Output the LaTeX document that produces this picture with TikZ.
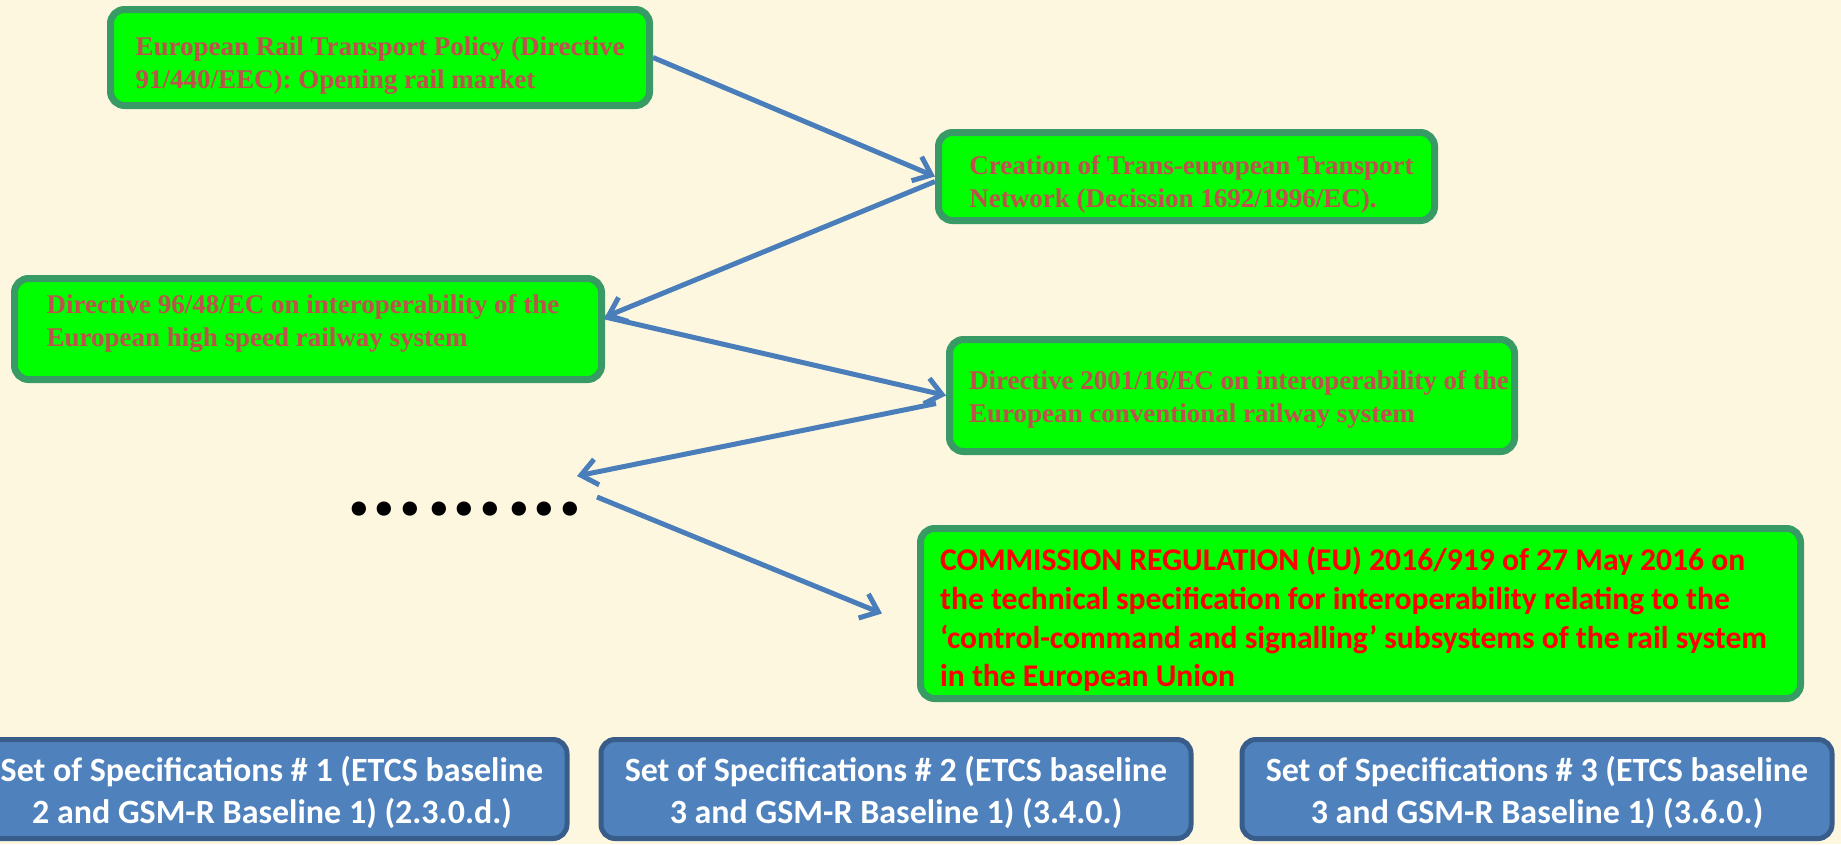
\documentclass[tikz,border=0pt]{standalone}
\usepackage{fontspec}
\setmainfont{Liberation Serif}
\newfontfamily\calib{Carlito}
\usetikzlibrary{arrows.meta}

\definecolor{bgcream}{HTML}{FEF7DF}
\definecolor{boxgreen}{HTML}{00FF00}
\definecolor{edgegreen}{HTML}{389A65}
\definecolor{textbrown}{HTML}{C0504D}
\definecolor{specfill}{HTML}{4F81BD}
\definecolor{specedge}{HTML}{385D8A}
\definecolor{linkblue}{HTML}{4A7EBB}

% multi-line block, moved by (dx, dy) without changing its reported size
% #1 = vertical raise, #2 = horizontal move, #3 = lines
\newcommand\blockL[3]{\kern#2\raisebox{#1}[\height][\depth]{\begin{tabular}{@{}l@{}}#3\end{tabular}}\kern-#2}
\newcommand\blockC[2]{\raisebox{#1}[\height][\depth]{\begin{tabular}{@{}c@{}}#2\end{tabular}}}
\newcommand\dotrun{\makebox[25.5pt]{.}\makebox[25.5pt]{.}\makebox[25.5pt]{.}}

\tikzset{
  greenbox/.style={draw=edgegreen, line width=7pt, fill=boxgreen,
    rounded corners=14pt, text=textbrown, inner sep=0pt,
    font=\bfseries\fontsize{27}{33}\selectfont},
  regbox/.style={greenbox, text=red,
    font=\calib\bfseries\fontsize{31.6}{38.6}\selectfont},
  specbox/.style={draw=specedge, line width=5pt, fill=specfill,
    rounded corners=14pt, text=white, inner sep=0pt,
    minimum width=590pt, minimum height=99pt,
    font=\calib\bfseries\fontsize{34}{42}\selectfont},
  link/.style={draw=linkblue, line width=5pt,
    -{Straight Barb[length=16pt,width=26pt]}},
}

\begin{document}
\begin{tikzpicture}[x=1pt,y=-1pt]
\useasboundingbox (0,0) rectangle (1841,844);
\clip (0,0) rectangle (1841,844);
\fill[bgcream] (0,0) rectangle (1841,844);

% legislative steps
\node[greenbox, minimum width=539pt, minimum height=96pt] (policy) at (380,57.5)
  {\blockL{-7.4pt}{0pt}{European Rail Transport Policy (Directive\\91/440/EEC): Opening rail market}};
\node[greenbox, minimum width=496pt, minimum height=88pt] (tent) at (1186.5,176.5)
  {\blockL{-7.7pt}{5pt}{Creation of Trans-european Transport\\Network (Decission 1692/1996/EC).}};
\node[greenbox, minimum width=587pt, minimum height=101pt] (hs) at (308,329)
  {\blockL{5.6pt}{-5pt}{Directive 96/48/EC on interoperability of the\\European high speed railway system}};
\node[greenbox, minimum width=565pt, minimum height=112pt] (conv) at (1232,395.5)
  {\blockL{-3.5pt}{7pt}{Directive 2001/16/EC on interoperability of the\\European conventional railway system}};
\node[regbox, minimum width=880pt, minimum height=170pt] (reg) at (1360.5,613.5)
  {\blockL{-7.5pt}{-7pt}{COMMISSION REGULATION (EU) 2016/919 of 27 May 2016 on\\
   the technical specification for interoperability relating to the\\
   ‘control-command and signalling’ subsystems of the rail system\\
   in the European Union}};

% ellipsis between the steps
\node[inner sep=0pt, font=\calib\bfseries\fontsize{96}{96}\selectfont] (dots) at (464.5,509)
  {\dotrun\hspace{3.5pt}\dotrun\hspace{3.5pt}\dotrun};
\coordinate (gapin) at (577,476);
\coordinate (gapout) at (597,497);

% connectors
\draw[link] (policy.east) -- (tent.west);
\draw[link] ([yshift=-5pt]tent.west) -- ([yshift=12pt]hs.east);
\draw[link] ([yshift=12pt]hs.east) -- (conv.west);
\draw[link] ([xshift=-10pt,yshift=-8pt]conv.west) -- (gapin);
\draw[link] (gapout) -- ([xshift=-35pt]reg.west);

% sets of specifications
\node[specbox] (set1) at (272,789)
  {\blockC{-5pt}{Set of Specifications \# 1 (ETCS baseline\\2 and GSM-R Baseline 1) (2.3.0.d.)}};
\node[specbox] (set2) at (896,789)
  {\blockC{-5pt}{Set of Specifications \# 2 (ETCS baseline\\3 and GSM-R Baseline 1) (3.4.0.)}};
\node[specbox] (set3) at (1537,789)
  {\blockC{-5pt}{Set of Specifications \# 3 (ETCS baseline\\3 and GSM-R Baseline 1) (3.6.0.)}};
\end{tikzpicture}
\end{document}
